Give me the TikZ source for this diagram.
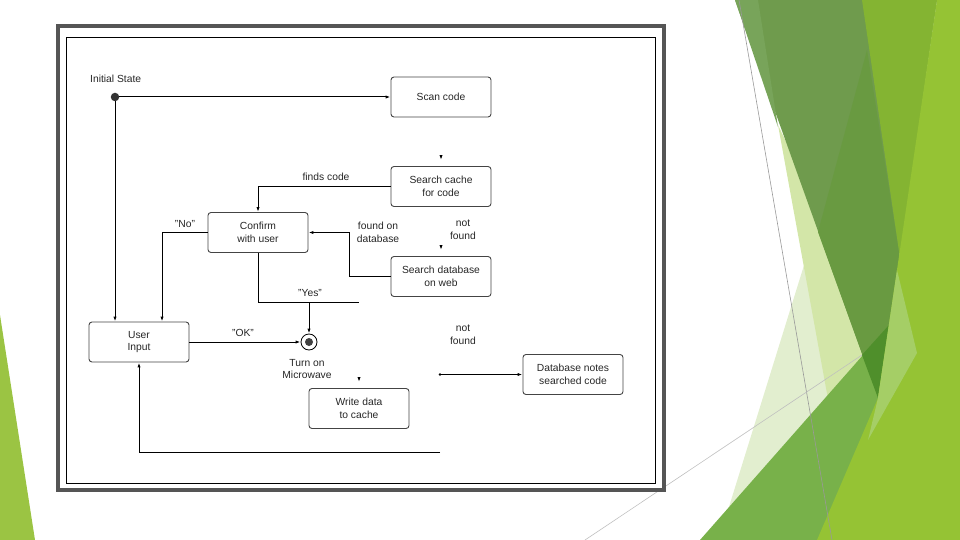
\documentclass[tikz,border=0pt]{standalone}
\usepackage{fontspec}
\setmainfont{Liberation Sans}
\usetikzlibrary{calc,arrows.meta}
\definecolor{facetleft}{HTML}{9BC443}
\definecolor{facetmuted}{HTML}{6F9B4D}
\definecolor{facetstrip}{HTML}{78A45A}
\definecolor{facetdeep}{HTML}{699A41}
\definecolor{facetolive}{HTML}{84B432}
\definecolor{facetmid}{HTML}{78B14A}
\definecolor{facettip}{HTML}{4F8F2B}
\definecolor{facetlime}{HTML}{95C334}
\definecolor{facetpatch}{HTML}{A5CE66}
\definecolor{facetpale}{HTML}{E2EECF}
\definecolor{facetpaler}{HTML}{D3E6A8}
\definecolor{framegray}{HTML}{555555}
\definecolor{boxgray}{HTML}{444444}
\newcommand\diagfont{\fontsize{10.3}{12.8}\selectfont}
\tikzset{
  state box/.style={draw=boxgray, line width=0.9pt, rounded corners=3pt,
    minimum width=100pt, minimum height=40pt, align=center, inner sep=2pt,
    font=\diagfont, text=black!85},
  flow line/.style={line width=1pt, black},
  flow arrow/.style={flow line, -{Latex[length=5pt,width=3.2pt]}},
  flow label/.style={align=center, inner sep=0pt, font=\diagfont, text=black!85},
  facet line/.style={line width=0.6pt},
}
\begin{document}
\begin{tikzpicture}[x=1pt,y=-1pt]
\useasboundingbox (0,0) rectangle (960,540);

\fill[facetleft] (0,315) -- (35,540) -- (0,540) -- cycle;
\fill[facetpale] (805,262) -- (728,510) -- (870,380) -- cycle;
\fill[facetpaler] (778,125) -- (830,410) -- (900,380) -- cycle;
\fill[facetmuted] (735,0) -- (937,0) -- (878,398) -- cycle;
\fill[facetstrip] (735,0) -- (758,0) -- (778,127) -- cycle;
\fill[facetdeep] (867,50) -- (900,258) -- (878,398) -- (818,232) -- cycle;
\fill[facetolive] (862,0) -- (937,0) -- (900,258) -- cycle;
\fill[facetmid] (700,540) -- (960,245) -- (960,540) -- cycle;
\fill[facettip] (862,355) -- (889,325) -- (878,398) -- cycle;
\fill[facetlime] (937,0) -- (960,0) -- (960,540) -- (817,540) -- (878,398) -- cycle;
\fill[facetpatch] (897,270) -- (917,353) -- (868,440) -- (878,398) -- cycle;
\draw[facet line, black!40] (739,0) -- (832,540);
\draw[facet line, black!25] (585,540) -- (862,355);

\draw[framegray, line width=4pt] (58,26) rectangle (664,490);
\draw[line width=0.8pt] (66.5,37.5) rectangle (655,483.5);

\node[circle, fill=black!80, inner sep=0pt, minimum size=8.5pt] (init) at (115,97) {};
\node[flow label, anchor=west] (initlabel) at (90,79) {Initial State};
\node[state box] (scan) at (441,97) {Scan code};
\node[state box] (cache) at (441,186.5) {Search cache\\for code};
\node[state box] (confirm) at (258,232.5) {Confirm\\with user};
\node[state box] (websearch) at (441,276.5) {Search database\\on web};
\node[state box] (userin) at (139,342) {User\\Input};
\node[state box] (writecache) at (359,408.5) {Write data\\to cache};
\node[state box] (dbnotes) at (573,374.5) {Database notes\\searched code};
\node[circle, draw, line width=0.8pt, inner sep=0pt, minimum size=16pt] (micro) at (309,342) {};
\node[circle, fill=black!75, inner sep=0pt, minimum size=8pt] (microdot) at (micro) {};

\draw[flow arrow] (init) -- (scan);
\draw[flow arrow] (init) -- (init |- userin.north);

\draw[flow arrow] (cache.west) -| (confirm.north);
\node[flow label] (findslabel) at (326,177) {finds code};

\coordinate (nobend) at (162,232.5);
\draw[flow arrow] (confirm.west) -- (nobend) -- (nobend |- userin.north);
\node[flow label] (nolabel) at (185,224) {"No"};

\coordinate (foundbend) at (349,232.5);
\draw[flow arrow] (websearch.west) -| (foundbend) -- (confirm.east);
\node[flow label] (foundlabel) at (378,232) {found on\\database};

\coordinate (yesend) at (359,302);
\draw[flow line] (confirm.south) |- (yesend);
\draw[flow arrow] (micro |- yesend) -- (micro.north);
\node[flow label] (yeslabel) at (310,293) {"Yes"};

\draw[flow arrow] (userin.east) -- (micro.west);
\node[flow label] (oklabel) at (243,333) {"OK"};
\node[flow label] (microlabel) at (307,369) {Turn on\\Microwave};

\coordinate (loopend) at (440,452);
\draw[flow arrow] (loopend) -| (userin.south);

\coordinate (notfoundend) at (440,374.5);
\draw[flow arrow] (notfoundend) -- (dbnotes.west);
\fill (notfoundend) circle (1.3);
\node[flow label] (notfoundtop) at (463,229.5) {not\\found};
\node[flow label] (notfoundlow) at (463,334.5) {not\\found};

\draw[flow arrow] ($(cache.north)+(0,-11)$) -- ($(cache.north)+(0,-6)$);
\draw[flow arrow] ($(websearch.north)+(0,-11)$) -- ($(websearch.north)+(0,-6)$);
\draw[flow arrow] ($(writecache.north)+(0,-11)$) -- ($(writecache.north)+(0,-6)$);
\end{tikzpicture}
\end{document}
